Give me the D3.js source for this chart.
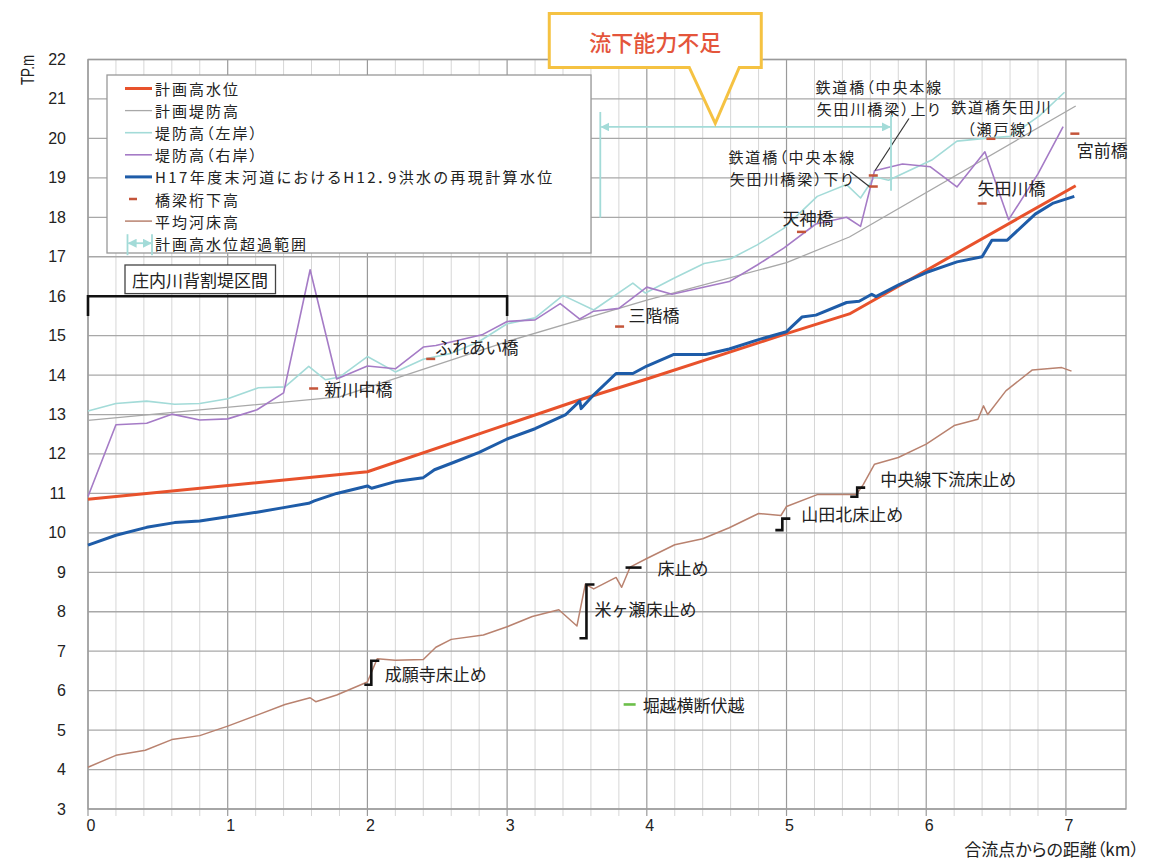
<!DOCTYPE html>
<html lang="ja">
<head>
<meta charset="utf-8">
<title>流下能力</title>
<script src="https://cdn.jsdelivr.net/npm/d3@7"></script>
<style>
  body { margin: 0; background: #fff; }
  svg { display: block; font-family: "Noto Sans CJK JP", "Noto Sans", sans-serif; }
  .num { font-family: "Liberation Sans", Arial, sans-serif; }
  .palt { font-feature-settings: "palt"; }
</style>
</head>
<body>
<div id="chart"></div>
<script>
// ---- data (km from confluence, elevation TP.m) ----
const xTicks = [0, 1, 2, 3, 4, 5, 6, 7];
const yTicks = [3, 4, 5, 6, 7, 8, 9, 10, 11, 12, 13, 14, 15, 16, 17, 18, 19, 20, 21, 22];

// 計画高水位
const planHighWater = [[0,10.85],[2,11.55],[3,12.75],[3.5,13.35],[4,13.9],[5,15.05],[5.45,15.55],[7.07,18.8]];

// 計画堤防高
const planLevee = [[0,12.85],[1.8,13.45],[3.0,14.85],[4.0,15.9],[5.0,16.85],[5.45,17.5],[7.07,20.82]];

// 堤防高(左岸)
const leveeLeft = [[0,13.09],[0.2,13.28],[0.42,13.34],[0.62,13.26],[0.8,13.28],[1.0,13.4],[1.22,13.68],[1.41,13.7],
  [1.58,14.22],[1.7,13.88],[1.8,13.95],[2.0,14.47],[2.2,14.08],[2.4,14.4],[2.6,14.55],[2.8,14.85],[3.0,15.3],
  [3.2,15.45],[3.4,16.02],[3.62,15.65],[3.9,16.33],[3.99,16.08],[4.19,16.45],[4.41,16.83],[4.6,16.95],[4.79,17.3],
  [4.98,17.72],[5.22,18.53],[5.43,18.83],[5.53,18.49],[5.63,19.03],[5.73,18.94],[6.04,19.45],[6.22,19.93],
  [6.42,20.0],[6.6,20.05],[6.81,20.57],[6.99,21.17]];

// 堤防高(右岸)
const leveeRight = [[0,10.92],[0.2,12.74],[0.42,12.78],[0.6,13.01],[0.8,12.86],[1.0,12.89],[1.21,13.12],[1.4,13.55],
  [1.59,16.67],[1.78,13.9],[2.0,14.23],[2.2,14.16],[2.4,14.71],[2.49,14.75],[2.82,15.02],[3.0,15.36],[3.2,15.4],
  [3.38,15.81],[3.52,15.42],[3.62,15.62],[3.8,15.69],[4.0,16.23],[4.18,16.05],[4.59,16.37],[4.79,16.79],
  [4.98,17.22],[5.21,17.83],[5.43,18.0],[5.53,17.77],[5.63,19.18],[5.83,19.35],[6.03,19.28],[6.22,18.77],
  [6.42,19.66],[6.59,17.94],[6.8,19.1],[6.98,20.3]];

// H17年度末河道におけるH12.9洪水の再現計算水位
const floodH12 = [[0,9.69],[0.2,9.94],[0.42,10.14],[0.62,10.26],[0.8,10.3],[1.0,10.41],[1.22,10.53],[1.4,10.64],
  [1.58,10.75],[1.62,10.81],[1.78,11.0],[2.0,11.19],[2.03,11.13],[2.2,11.3],[2.4,11.4],[2.48,11.6],[2.62,11.79],
  [2.8,12.04],[3.0,12.38],[3.2,12.64],[3.42,13.0],[3.52,13.34],[3.53,13.15],[3.62,13.5],[3.78,14.04],[3.9,14.04],
  [4.0,14.23],[4.19,14.52],[4.42,14.52],[4.59,14.66],[4.8,14.9],[5.0,15.1],[5.11,15.47],[5.21,15.52],[5.43,15.84],
  [5.52,15.87],[5.61,16.05],[5.64,15.99],[5.81,16.3],[6.0,16.6],[6.22,16.87],[6.4,17.0],[6.47,17.42],[6.58,17.42],
  [6.78,18.08],[6.91,18.36],[7.06,18.53]];

// 平均河床高
const bedLevel = [[0,4.06],[0.2,4.36],[0.41,4.49],[0.6,4.76],[0.8,4.86],[1.0,5.1],[1.21,5.38],[1.41,5.65],[1.59,5.82],
  [1.63,5.72],[1.78,5.89],[2.0,6.22],[2.07,6.81],[2.2,6.77],[2.4,6.79],[2.49,7.1],[2.6,7.3],[2.83,7.41],[3.0,7.62],
  [3.18,7.88],[3.37,8.05],[3.5,7.64],[3.56,8.7],[3.62,8.58],[3.78,8.87],[3.82,8.62],[3.88,9.13],[4.0,9.35],[4.2,9.7],
  [4.4,9.85],[4.59,10.13],[4.8,10.49],[4.96,10.44],[5.0,10.67],[5.22,10.97],[5.5,10.97],[5.55,11.23],[5.63,11.74],
  [5.8,11.91],[6.0,12.25],[6.2,12.72],[6.37,12.88],[6.41,13.22],[6.44,13.0],[6.57,13.6],[6.76,14.13],[6.97,14.19],
  [7.04,14.1]];

// 橋梁桁下高
const bridgeNames = ['新川中橋', 'ふれあい橋', '三階橋', '天神橋', '鉄道橋（中央本線矢田川橋梁）下り',
  '鉄道橋（中央本線矢田川橋梁）上り', '矢田川橋', '鉄道橋矢田川（瀬戸線）', '宮前橋'];
const bridgeKm = [1.615, 2.453, 3.805, 5.107, 5.621, 5.621, 6.40, 6.463, 7.064];
const bridgeClearance = [13.66, 14.41, 15.23, 17.63, 18.78, 19.06, 18.35, 19.99, 20.12];

// 床止め (km, bottom, top)
const weirNames = ['成願寺床止め', '米ヶ瀬床止め', '床止め', '山田北床止め', '中央線下流床止め'];
const weirKm = [2.028, 3.568, 3.905, 4.97, 5.506];
const weirBottom = [6.15, 7.33, 9.12, 10.07, 10.915];
const weirTop = [6.76, 8.69, 9.12, 10.36, 11.146];

// 堀越横断伏越
const siphon = { name: '堀越横断伏越', km: 3.877, level: 5.65 };

// 計画高水位超過範囲, 庄内川背割堤区間
const exceedRange = [3.667, 5.748];
const leveeSection = [0, 3];

// ---- layout ----
const W = 1149, H = 859;
const x = d3.scaleLinear().domain([0, 7.43]).range([88, 1126]);
const y = d3.scaleLinear().domain([3, 22]).range([809, 59.5]);

const colors = {
    red: '#e8522c', gray: '#a8a8a8', cyan: '#a3dbd8', purple: '#a57bc6',
    blue: '#1e5ca8', brown: '#b9826f', bridge: '#c4553a', green: '#6cbf4a'
};

const svg = d3.select('#chart').append('svg')
    .attr('width', W)
    .attr('height', H);

// Grid: minor verticals every 0.2 km
const minorX = d3.range(1, 35).map(i => i / 5).filter(v => Math.abs(v - Math.round(v)) > 1e-6);
svg.append('g').selectAll('line').data(minorX).enter().append('line')
    .attr('x1', d => x(d)).attr('x2', d => x(d))
    .attr('y1', y(22)).attr('y2', y(3) + 7)
    .attr('stroke', '#d6d6d6').attr('stroke-width', 1);

svg.append('g').selectAll('line').data(xTicks).enter().append('line')
    .attr('x1', d => x(d)).attr('x2', d => x(d))
    .attr('y1', y(22)).attr('y2', y(3) + 7)
    .attr('stroke', '#9a9a9a').attr('stroke-width', 1.2);

svg.append('g').selectAll('line').data(yTicks).enter().append('line')
    .attr('x1', x(0)).attr('x2', x.range()[1])
    .attr('y1', d => y(d)).attr('y2', d => y(d))
    .attr('stroke', '#a8a8a8').attr('stroke-width', 1.3);

// Plot border
svg.append('rect')
    .attr('x', x(0)).attr('y', y(22))
    .attr('width', x.range()[1] - x(0)).attr('height', y(3) - y(22))
    .attr('fill', 'none').attr('stroke', '#9a9a9a').attr('stroke-width', 1.3);

// Axis labels
svg.append('g').selectAll('text').data(yTicks).enter().append('text')
    .attr('class', 'num')
    .attr('x', 66).attr('y', d => y(d))
    .attr('text-anchor', 'end').attr('dominant-baseline', 'central')
    .style('font-size', '16px').style('fill', '#222')
    .text(d => d);

svg.append('g').selectAll('text').data(xTicks).enter().append('text')
    .attr('class', 'num')
    .attr('x', d => x(d) + 3).attr('y', 825)
    .attr('text-anchor', 'middle').attr('dominant-baseline', 'central')
    .style('font-size', '16px').style('fill', '#222')
    .text(d => d);

svg.append('text')
    .attr('class', 'num')
    .attr('transform', 'translate(28,70) rotate(-90)')
    .attr('text-anchor', 'middle').attr('dominant-baseline', 'central')
    .attr('textLength', 30).attr('lengthAdjust', 'spacingAndGlyphs')
    .style('font-size', '18px').style('fill', '#222')
    .text('TP.m');

svg.append('text')
    .attr('class', 'palt')
    .attr('x', 1139).attr('y', 848)
    .attr('text-anchor', 'end').attr('dominant-baseline', 'central')
    .style('font-size', '17px').style('fill', '#222')
    .text('合流点からの距離（km）');

// Series lines
const line = d3.line().x(d => x(d[0])).y(d => y(d[1]));
const series = [
    { data: planHighWater, color: colors.red, w: 3 },
    { data: planLevee, color: colors.gray, w: 1.3 },
    { data: leveeLeft, color: colors.cyan, w: 1.6 },
    { data: leveeRight, color: colors.purple, w: 1.6 },
    { data: floodH12, color: colors.blue, w: 3 },
    { data: bedLevel, color: colors.brown, w: 1.5 }
];
series.forEach(s => {
    svg.append('path')
        .datum(s.data)
        .attr('d', line)
        .attr('fill', 'none')
        .attr('stroke', s.color)
        .attr('stroke-width', s.w)
        .attr('stroke-linejoin', 'round');
});

// Bridge clearance markers
svg.append('g').selectAll('rect').data(bridgeKm).enter().append('rect')
    .attr('x', d => x(d) - 4.5)
    .attr('y', (d, i) => y(bridgeClearance[i]) - 1.25)
    .attr('width', 9).attr('height', 2.5)
    .attr('fill', colors.bridge);

// Bridge labels: [lines, dx, dy of first line, anchor]
const bridgeLabelLayout = [
    [['新川中橋'], 11, 0, 'start'],
    [['ふれあい橋'], 5.5, -12, 'start'],
    [['三階橋'], 9, -11.6, 'start'],
    [['天神橋'], 6.5, -14, 'middle'],
    [['鉄道橋（中央本線', '矢田川橋梁）下り'], -82, -30.2, 'middle'],
    [['鉄道橋（中央本線', '矢田川橋梁）上り'], 5, -89.1, 'middle'],
    [['矢田川橋'], 29.3, -16, 'middle'],
    [['鉄道橋矢田川', '（瀬戸線）'], 10, -32.2, 'middle'],
    [['宮前橋'], 27.4, 16.3, 'middle']
];
bridgeLabelLayout.forEach((lab, i) => {
    const px = x(bridgeKm[i]), py = y(bridgeClearance[i]);
    const twoLines = lab[0].length > 1;
    lab[0].forEach((s, j) => {
        svg.append('text')
            .attr('class', 'palt')
            .attr('x', px + lab[1] + (twoLines ? 1 : 0)).attr('y', py + lab[2] + j * 22)
            .attr('text-anchor', lab[3]).attr('dominant-baseline', 'central')
            .style('font-size', twoLines ? '15px' : '17px')
            .style('letter-spacing', twoLines ? '1.9px' : null)
            .style('fill', '#222')
            .text(s);
    });
});

// Leader lines for the two railway bridge labels
const pxRail = x(bridgeKm[4]);
svg.append('line')
    .attr('x1', pxRail - 23).attr('y1', y(bridgeClearance[4]) - 14.7)
    .attr('x2', pxRail - 4).attr('y2', y(bridgeClearance[4]))
    .attr('stroke', '#333').attr('stroke-width', 1.2);
svg.append('line')
    .attr('x1', pxRail + 35.7).attr('y1', y(bridgeClearance[5]) - 57)
    .attr('x2', pxRail + 1.8).attr('y2', y(bridgeClearance[5]) - 5)
    .attr('stroke', '#333').attr('stroke-width', 1.2);

// Weirs
weirKm.forEach((km, i) => {
    const px = x(km), yb = y(weirBottom[i]), yt = y(weirTop[i]);
    const d = yb === yt
        ? `M${px - 8},${yb}H${px + 8}`
        : `M${px - 7},${yb}H${px}V${yt}H${px + 8}`;
    svg.append('path')
        .attr('d', d)
        .attr('fill', 'none').attr('stroke', '#111').attr('stroke-width', 2.6);
});
// Weir labels: [dx, dy from bracket middle]
const weirLabelLayout = [[13.5, 1], [8, -3], [24, 0], [19, -10.5], [23, -14]];
weirNames.forEach((name, i) => {
    const px = x(weirKm[i]);
    const pm = (y(weirBottom[i]) + y(weirTop[i])) / 2;
    svg.append('text')
        .attr('x', px + weirLabelLayout[i][0]).attr('y', pm + weirLabelLayout[i][1])
        .attr('dominant-baseline', 'central')
        .style('font-size', '17px').style('fill', '#222')
        .text(name);
});

// Siphon marker
svg.append('rect')
    .attr('x', x(siphon.km) - 6).attr('y', y(siphon.level) - 1.3)
    .attr('width', 12).attr('height', 2.6)
    .attr('fill', colors.green);
svg.append('text')
    .attr('x', x(siphon.km) + 13).attr('y', y(siphon.level))
    .attr('dominant-baseline', 'central')
    .style('font-size', '17px').style('fill', '#222')
    .text(siphon.name);

// Arrowhead marker
const defs = svg.append('defs');
defs.append('marker')
    .attr('id', 'arr')
    .attr('viewBox', '0 0 10 10')
    .attr('refX', 9).attr('refY', 5)
    .attr('markerWidth', 9).attr('markerHeight', 9)
    .attr('markerUnits', 'userSpaceOnUse')
    .attr('orient', 'auto-start-reverse')
    .append('path').attr('d', 'M0,0L10,5L0,10Z').attr('fill', colors.cyan);

// 計画高水位超過範囲 arrow
const ex0 = x(exceedRange[0]), ex1 = x(exceedRange[1]);
svg.append('line')
    .attr('x1', ex0).attr('x2', ex0).attr('y1', y(20.67)).attr('y2', y(17.99))
    .attr('stroke', colors.cyan).attr('stroke-width', 1.8);
svg.append('line')
    .attr('x1', ex1).attr('x2', ex1).attr('y1', y(20.59)).attr('y2', y(18.67))
    .attr('stroke', colors.cyan).attr('stroke-width', 1.8);
svg.append('line')
    .attr('x1', ex0 + 1).attr('x2', ex1 - 1).attr('y1', y(20.29)).attr('y2', y(20.29))
    .attr('stroke', colors.cyan).attr('stroke-width', 1.8)
    .attr('marker-start', 'url(#arr)').attr('marker-end', 'url(#arr)');

// 庄内川背割堤区間 bracket
const bx0 = x(leveeSection[0]), bx1 = x(leveeSection[1]);
svg.append('path')
    .attr('d', `M${bx0},${y(15.5)}V${y(16)}H${bx1}V${y(15.5)}`)
    .attr('fill', 'none').attr('stroke', '#111').attr('stroke-width', 2.6);
svg.append('rect')
    .attr('x', 125).attr('y', 265).attr('width', 150.5).attr('height', 28.6)
    .attr('fill', '#fff').attr('stroke', '#444').attr('stroke-width', 1.3);
svg.append('text')
    .attr('x', 200).attr('y', 279.5)
    .attr('text-anchor', 'middle').attr('dominant-baseline', 'central')
    .style('font-size', '17px').style('fill', '#222')
    .text('庄内川背割堤区間');

// 流下能力不足 callout
const tipX = x(4.49), tipY = y(20.38);
svg.append('path')
    .attr('d', `M${tipX - 166},${tipY - 110}H${tipX + 46}V${tipY - 56}H${tipX + 24}L${tipX},${tipY}L${tipX - 26},${tipY - 56}H${tipX - 166}Z`)
    .attr('fill', '#fff').attr('stroke', '#f5c242').attr('stroke-width', 3)
    .attr('stroke-linejoin', 'miter');
svg.append('text')
    .attr('x', tipX - 60).attr('y', tipY - 82)
    .attr('text-anchor', 'middle').attr('dominant-baseline', 'central')
    .style('font-size', '22px').style('font-weight', 500).style('fill', '#e4553b')
    .text('流下能力不足');

// Legend
const legend = svg.append('g').attr('class', 'chart-legend');
legend.append('rect')
    .attr('x', 107).attr('y', 75).attr('width', 484).attr('height', 178)
    .attr('fill', '#fff').attr('stroke', '#999').attr('stroke-width', 1.3);

const legendItems = [
    { label: '計画高水位', type: 'line', color: colors.red, w: 3 },
    { label: '計画堤防高', type: 'line', color: colors.gray, w: 1.3 },
    { label: '堤防高（左岸）', type: 'line', color: colors.cyan, w: 1.6 },
    { label: '堤防高（右岸）', type: 'line', color: colors.purple, w: 1.6 },
    { label: 'H17年度末河道におけるH12．9洪水の再現計算水位', type: 'line', color: colors.blue, w: 3, ls: 2.4 },
    { label: '橋梁桁下高', type: 'dash', color: colors.bridge },
    { label: '平均河床高', type: 'line', color: colors.brown, w: 1.5 },
    { label: '計画高水位超過範囲', type: 'arrow', color: colors.cyan }
];
legendItems.forEach((item, i) => {
    const ly = 88.5 + i * 22.1;
    const g = legend.append('g');
    if (item.type === 'line') {
        g.append('line').attr('x1', 125).attr('x2', 152).attr('y1', ly).attr('y2', ly)
            .attr('stroke', item.color).attr('stroke-width', item.w);
    } else if (item.type === 'dash') {
        g.append('rect').attr('x', 129).attr('y', ly - 1.25).attr('width', 8).attr('height', 2.5)
            .attr('fill', item.color);
    } else {
        g.append('line').attr('x1', 127.5).attr('x2', 127.5).attr('y1', ly - 9).attr('y2', ly + 12)
            .attr('stroke', item.color).attr('stroke-width', 1.8);
        g.append('line').attr('x1', 152).attr('x2', 152).attr('y1', ly - 9).attr('y2', ly + 12)
            .attr('stroke', item.color).attr('stroke-width', 1.8);
        g.append('line').attr('x1', 128.5).attr('x2', 151).attr('y1', ly).attr('y2', ly)
            .attr('stroke', item.color).attr('stroke-width', 1.8)
            .attr('marker-start', 'url(#arr)').attr('marker-end', 'url(#arr)');
    }
    g.append('text')
        .attr('class', 'palt')
        .attr('x', 155).attr('y', ly)
        .attr('dominant-baseline', 'central')
        .style('font-size', '15px')
        .style('letter-spacing', (item.ls || 2) + 'px')
        .style('fill', '#222')
        .text(item.label);
});
</script>
</body>
</html>
